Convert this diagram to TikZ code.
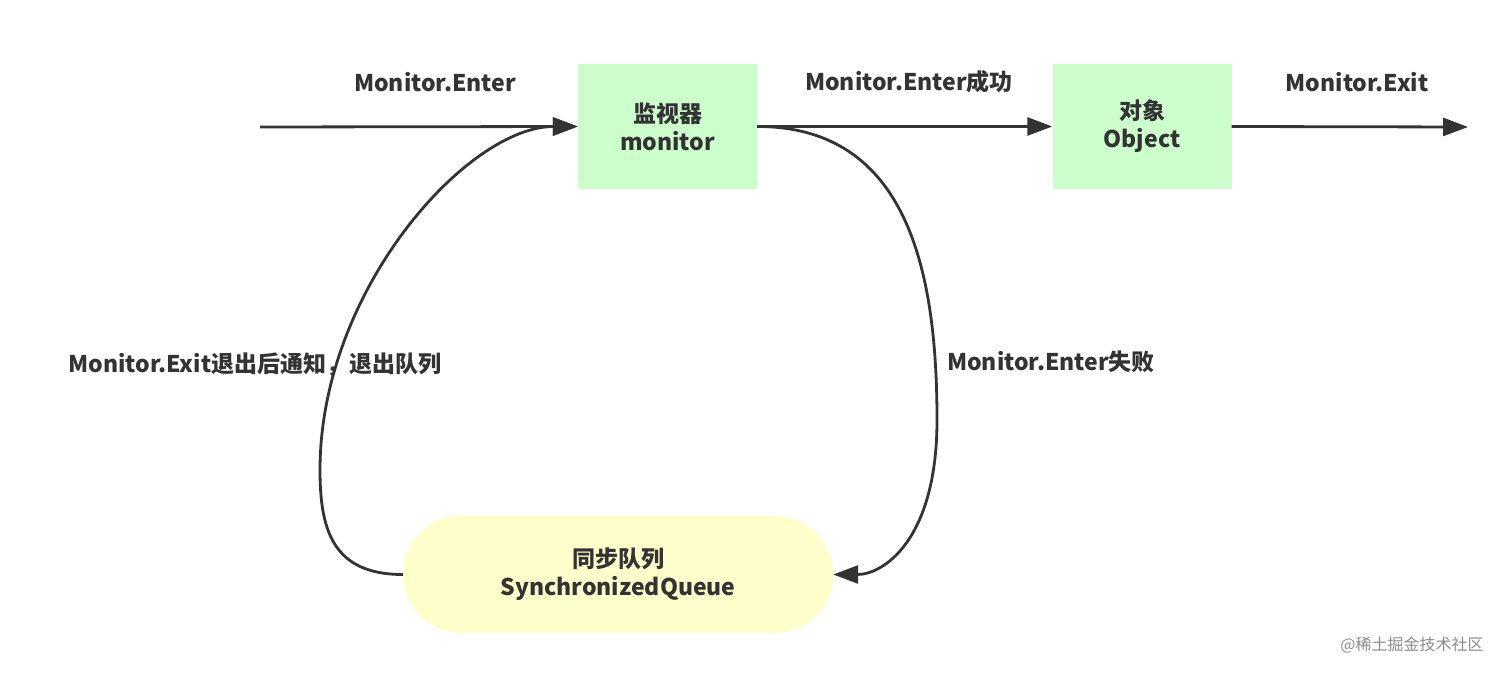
\documentclass[tikz,border=0pt]{standalone}
\usepackage{fontspec}
\setmainfont{Noto Sans CJK SC}
\usetikzlibrary{arrows.meta}
\definecolor{boxgreen}{HTML}{CCFFCC}
\definecolor{boxyellow}{HTML}{FFFFCC}
\definecolor{ink}{HTML}{333333}
\begin{document}
\begin{tikzpicture}[x=1pt,y=-1pt,
  every node/.style={font=\fontsize{23}{28}\selectfont\bfseries, text=ink, inner sep=0pt},
  greenbox/.style={fill=boxgreen, minimum width=179pt, minimum height=125pt, align=center},
  queuebox/.style={fill=boxyellow, rounded corners=58pt, minimum width=430pt, minimum height=117pt, align=center},
  conn/.style={draw=ink, line width=2.8pt, -{Triangle[length=25pt,width=18pt]}},
  lbl/.style={anchor=center}
]
\useasboundingbox (0,0) rectangle (1512,676);
\fill[white] (0,0) rectangle (1512,676);
\node[greenbox] (mon) at (667.5,126.5) {监视器\\monitor};
\node[greenbox] (obj) at (1142,126.5) {对象\\Object};
\node[queuebox] (q) at (618,574.5) {同步队列\\SynchronizedQueue};
\coordinate (start) at (260,127);
\coordinate (endp) at (1468,127);
\coordinate (rp) at (937,420);
\coordinate (lp) at (320,470);
\draw[conn] (start) -- (mon.west);
\draw[conn] (mon.east) -- (obj.west);
\draw[conn] (obj.east) -- (endp);
\draw[conn] (mon.east) .. controls +(150,0) and +(0,-150) .. (rp) .. controls +(0,120) and +(50,0) .. (q.east);
\draw[conn] (q.west) .. controls +(-70,0) and +(0,60) .. (lp) .. controls +(0,-180) and +(-110,0) .. (mon.west);
\node[lbl] (l1) at (435,82) {Monitor.Enter};
\node[lbl] (l2) at (909,82) {Monitor.Enter成功};
\node[lbl] (l3) at (1357,82) {Monitor.Exit};
\node[lbl] (l4) at (255,364) {Monitor.Exit退出后通知，退出队列};
\node[lbl] (l5) at (1051,362) {Monitor.Enter失败};
\node[font=\fontsize{16}{18}\selectfont, text=black!45] (wm) at (1412,645) {@稀土掘金技术社区};
\end{tikzpicture}
\end{document}
